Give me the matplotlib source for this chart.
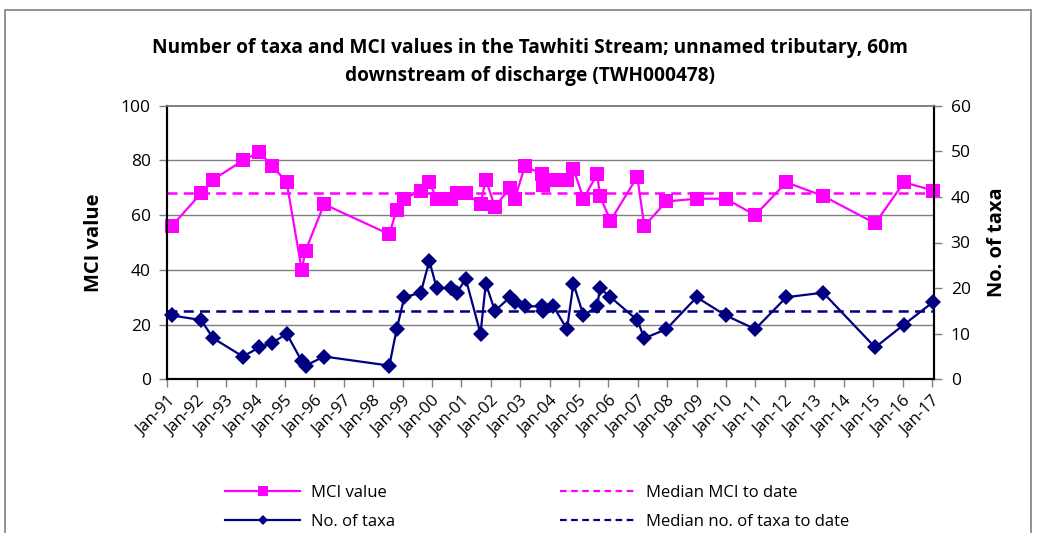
import matplotlib
matplotlib.use("Agg")
import matplotlib.pyplot as plt
from matplotlib.lines import Line2D
from matplotlib.patches import Rectangle

plt.rcParams['font.family'] = ['Open Sans', 'DejaVu Sans']

# sample dates (decimal years)
sample_years = [1991.15, 1992.15, 1992.56, 1993.57, 1994.13, 1994.57, 1995.06, 1995.57,
                1995.70, 1996.33, 1998.55, 1998.80, 1999.06, 1999.62, 1999.91, 2000.16,
                2000.63, 2000.84, 2001.15, 2001.65, 2001.83, 2002.14, 2002.65, 2002.82,
                2003.16, 2003.73, 2003.79, 2004.13, 2004.59, 2004.81, 2005.15, 2005.62,
                2005.71, 2006.07, 2006.98, 2007.22, 2007.97, 2009.00, 2009.99, 2010.99,
                2012.05, 2013.30, 2015.07, 2016.05, 2017.05]
mci_values = [56, 68, 73, 80, 83, 78, 72, 40, 47, 64, 53, 62, 66, 69, 72, 66,
              66, 68, 68, 64, 73, 63, 70, 66, 78, 75, 71, 73, 73, 77, 66, 75,
              67, 58, 74, 56, 65, 66, 66, 60, 72, 67, 57, 72, 69]
taxa_values = [14, 13, 9, 5, 7, 8, 10, 4, 3, 5, 3, 11, 18, 19, 26, 20,
               20, 19, 22, 10, 21, 15, 18, 17, 16, 16, 15, 16, 11, 21, 14, 16,
               20, 18, 13, 9, 11, 18, 14, 11, 18, 19, 7, 12, 17]
median_mci = 68
median_taxa = 15

tick_years = list(range(1991, 2018))
tick_labels = ["Jan-%02d" % (y % 100) for y in tick_years]

title = ("Number of taxa and MCI values in the Tawhiti Stream; unnamed tributary, 60m\n"
         "downstream of discharge (TWH000478)")

PINK = '#FF00FF'
NAVY = '#000080'
GRID = '#808080'

W, H = 1037, 533
fig = plt.figure(figsize=(W / 100, H / 100), dpi=100)

# chart border
fig.patches.append(Rectangle((5 / W, -0.05), (1031 - 5) / W, 1.05 - 10 / H,
                             transform=fig.transFigure, fill=False,
                             edgecolor='#808080', linewidth=1.2))

x0, x1 = 167.3, 934.0
y0, y1 = 105.7, 379.3
ax = fig.add_axes([x0 / W, 1 - y1 / H, (x1 - x0) / W, (y1 - y0) / H])
ax2 = ax.twinx()

xmin, xmax = 1991.0, 2017.07
ax.set_xlim(xmin, xmax)
ax.set_ylim(0, 100)
ax2.set_ylim(0, 60)

ax.set_yticks(range(0, 101, 20))
ax2.set_yticks(range(0, 61, 10))
for yv in range(20, 100, 20):
    ax.axhline(yv, color=GRID, linewidth=1.0, zorder=0)

ax.plot([xmin, xmax], [median_mci, median_mci], color=PINK, linestyle=(0, (4, 2.5)),
        linewidth=1.8, zorder=2)
ax.plot(sample_years, mci_values, color=PINK, linewidth=1.6, marker='s',
        markersize=10, markeredgewidth=0, zorder=3, clip_on=False)

ax2.plot([xmin, xmax], [median_taxa, median_taxa], color=NAVY, linestyle=(0, (4, 2.5)),
         linewidth=1.8, zorder=2)
ax2.plot(sample_years, taxa_values, color=NAVY, linewidth=1.6, marker='D',
         markersize=8, markeredgewidth=0, zorder=3, clip_on=False)

ax.set_xticks(tick_years)
ax.set_xticklabels(tick_labels, rotation=45, ha='right', rotation_mode='anchor',
                   fontsize=12)
ax.tick_params(axis='x', direction='out', length=6, width=1, color=GRID, pad=4)
ax.tick_params(axis='y', direction='out', length=6, width=1, color=GRID,
               labelsize=12.5, pad=6)
ax2.tick_params(axis='y', direction='out', length=6, width=1, color=GRID,
                labelsize=12.5, pad=6)

for a in (ax, ax2):
    a.spines['top'].set_color(GRID)
    a.spines['top'].set_linewidth(1.2)
    for s in ('left', 'right', 'bottom'):
        a.spines[s].set_color('black')
        a.spines[s].set_linewidth(1.5)

ax.set_ylabel('MCI value', fontsize=14.5, fontweight='bold', labelpad=12)
ax2.set_ylabel('No. of taxa', fontsize=14.5, fontweight='bold', labelpad=12,
               rotation=90)

fig.text(530 / W, 1 - 62 / H, title, ha='center', va='center', fontsize=13.8,
         fontweight='bold', linespacing=1.6)

handles = [
    Line2D([], [], color=PINK, linewidth=1.6, marker='s', markersize=7, markeredgewidth=0),
    Line2D([], [], color=NAVY, linewidth=1.6, marker='D', markersize=5, markeredgewidth=0),
    Line2D([], [], color=PINK, linewidth=1.6, linestyle=(0, (3, 2))),
    Line2D([], [], color=NAVY, linewidth=1.6, linestyle=(0, (3, 2))),
]
labels = ['MCI value', 'No. of taxa', 'Median MCI to date', 'Median no. of taxa to date']
fig.legend(handles, labels, loc='upper left', bbox_to_anchor=(225 / W, 1 - 485 / H),
           ncol=2, frameon=False, fontsize=12, handlelength=4.5, handletextpad=0.65,
           columnspacing=9.9, labelspacing=0.75, borderaxespad=0, borderpad=0)

fig.savefig('out.png', dpi=100)
